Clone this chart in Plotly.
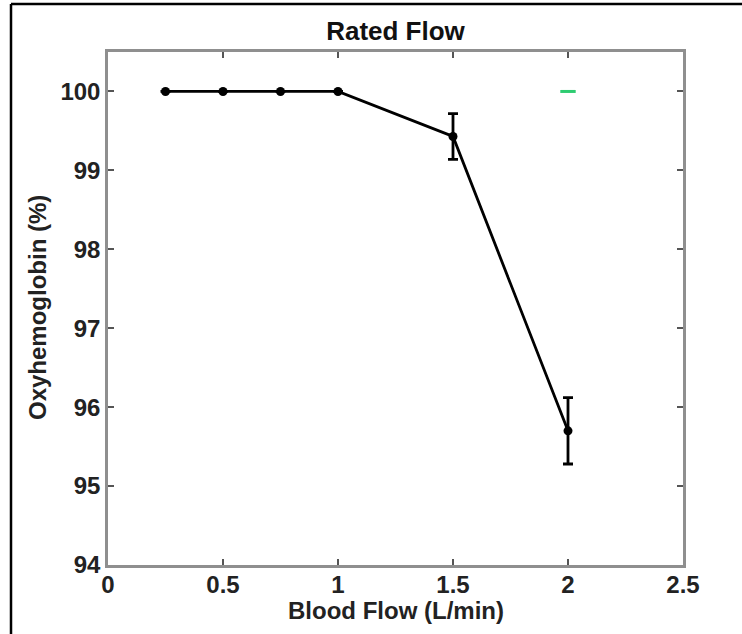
import plotly.graph_objects as go

# Data
flow = [0.25, 0.5, 0.75, 1.0, 1.5, 2.0]
oxy = [100.0, 100.0, 100.0, 100.0, 99.43, 95.70]
oxy_err = [0.0, 0.0, 0.0, 0.0, 0.29, 0.42]
green_x = [2.0]
green_y = [100.0]

x_ticks = [0, 0.5, 1, 1.5, 2, 2.5]
x_ticklabels = ["0", "0.5", "1", "1.5", "2", "2.5"]
y_ticks = [94, 95, 96, 97, 98, 99, 100]

FONT = "Liberation Sans"
W, H = 742, 634
ML, MR, MT, MB = 108, 59, 52, 69
PW, PH = W - ML - MR, H - MT - MB

fig = go.Figure()
fig.add_trace(go.Scatter(
    x=flow, y=oxy, mode="lines+markers",
    line=dict(color="black", width=2.8),
    marker=dict(color="black", size=9),
    error_y=dict(type="data", array=oxy_err, visible=True,
                 color="black", thickness=2.8, width=5),
    showlegend=False,
))
fig.add_trace(go.Scatter(
    x=green_x, y=green_y, mode="markers",
    marker=dict(symbol="line-ew", size=11,
                line=dict(color="rgb(46,204,113)", width=3)),
    showlegend=False,
))

axis_common = dict(
    showgrid=False, zeroline=False, showline=True, mirror="ticks",
    linecolor="#8f8f8f", linewidth=2.5,
    ticks="inside", ticklen=6, tickwidth=1.5, tickcolor="#555555",
    tickfont=dict(family=FONT, size=24, color="#222222", weight="bold"),
)

title_font = dict(family=FONT, size=24, color="#222222", weight="bold")

fig.update_layout(
    width=W, height=H,
    margin=dict(l=ML, r=MR, t=MT, b=MB),
    paper_bgcolor="white", plot_bgcolor="white",
    title=dict(text="Rated Flow", x=0.5, xref="paper", y=1 - 31 / H,
               yanchor="middle",
               font=dict(family=FONT, size=26, color="#111111", weight="bold")),
    xaxis=dict(range=[0, 2.5], tickvals=x_ticks, ticktext=x_ticklabels,
               ticklabelstandoff=-4, **axis_common),
    yaxis=dict(range=[94, 100.5], tickvals=y_ticks, **axis_common),
    annotations=[
        dict(text="Blood Flow (L/min)", xref="paper", yref="paper",
             x=0.5, y=-(611 - (MT + PH)) / PH, xanchor="center", yanchor="middle",
             showarrow=False, font=title_font),
        dict(text="Oxyhemoglobin (%)", xref="paper", yref="paper",
             x=(37 - ML) / PW, y=1 - (308 - MT) / PH, xanchor="center", yanchor="middle",
             textangle=-90, showarrow=False, font=title_font),
    ],
    shapes=[
        # outer frame (left and top edges visible)
        dict(type="line", xref="paper", yref="paper",
             x0=(11 - ML) / PW, x1=1.2, y0=1 + (MT - 4) / PH, y1=1 + (MT - 4) / PH,
             line=dict(color="black", width=2.5)),
        dict(type="line", xref="paper", yref="paper",
             x0=(11 - ML) / PW, x1=(11 - ML) / PW, y0=-0.2, y1=1 + (MT - 4) / PH,
             line=dict(color="black", width=2.5)),
    ],
)

fig.write_html("out.html")
